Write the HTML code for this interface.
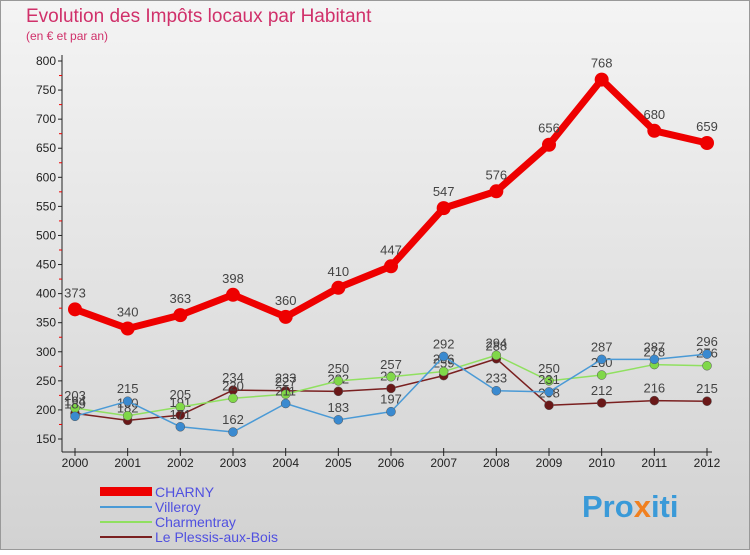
<!DOCTYPE html>
<html><head><meta charset="utf-8"><style>
body{margin:0;background:#fff;font-family:"Liberation Sans",sans-serif}
svg text{font-family:"Liberation Sans",sans-serif}
</style></head><body>
<svg width="750" height="550" xmlns="http://www.w3.org/2000/svg">
<defs><linearGradient id="bg" x1="0" y1="0" x2="0" y2="1"><stop offset="0" stop-color="#f4f4f4"/><stop offset="1" stop-color="#d2d2d2"/></linearGradient></defs>
<rect x="0.5" y="0.5" width="749" height="549" fill="url(#bg)" stroke="#999"/>
<text x="26" y="22" font-size="19" fill="#d0306a">Evolution des Impôts locaux par Habitant</text>
<text x="26" y="40" font-size="12" fill="#d0306a">(en € et par an)</text>
<g id="axes"></g><g id="series"></g>
<g>
<rect x="100" y="487" width="52" height="9" fill="#e00"/>
<text x="155" y="497" font-size="14" fill="#5050e0">CHARNY</text>
<line x1="100" y1="507" x2="152" y2="507" stroke="#4a9ad6" stroke-width="2"/>
<text x="155" y="512" font-size="14" fill="#5050e0">Villeroy</text>
<line x1="100" y1="522" x2="152" y2="522" stroke="#90e060" stroke-width="2"/>
<text x="155" y="527" font-size="14" fill="#5050e0">Charmentray</text>
<line x1="100" y1="537" x2="152" y2="537" stroke="#7a2020" stroke-width="2"/>
<text x="155" y="542" font-size="14" fill="#5050e0">Le Plessis-aux-Bois</text>
</g>
<text x="582" y="517" font-size="31" font-weight="bold" fill="#3a9ad8">Pro<tspan fill="#f08020">x</tspan>iti</text>
</svg>
<script>
const years=[2000,2001,2002,2003,2004,2005,2006,2007,2008,2009,2010,2011,2012];
const charny=[373,340,363,398,360,410,447,547,576,656,768,680,659];
const villeroy=[189,215,171,162,211,183,197,292,233,231,287,287,296];
const charmentray=[203,190,205,220,227,250,257,266,294,250,260,278,276];
const plessis=[194,182,191,234,233,232,237,259,288,208,212,216,215];
const yTicks=[150,200,250,300,350,400,450,500,550,600,650,700,750,800];
const NS="http://www.w3.org/2000/svg";
const X=i=>75+i*(707-75)/(years.length-1);
const Y=v=>439-(v-150)*(439-61)/650;
function mk(t,a,p){const e=document.createElementNS(NS,t);for(const k in a)e.setAttribute(k,a[k]);p.appendChild(e);return e;}
const ax=document.getElementById('axes');
mk('line',{x1:62,y1:55,x2:62,y2:452,stroke:'#222'},ax);
mk('line',{x1:62,y1:452,x2:712,y2:452,stroke:'#222'},ax);
yTicks.forEach(v=>{
 const l=mk('line',{x1:58,y1:Y(v),x2:62,y2:Y(v),stroke:'#222'},ax);
 
 
 if(v<800){const m=mk('line',{x1:59,y1:Y(v+25),x2:62,y2:Y(v+25),stroke:'#e00'},ax);
 
 }
 const t=mk('text',{x:56,y:Y(v)+4,'font-size':12,'text-anchor':'end',fill:'#222'},ax);
 
 
 t.textContent=v;
});
years.forEach((y,i)=>{
 const l=mk('line',{x1:X(i),y1:448,x2:X(i),y2:456,stroke:'#222'},ax);
 
 
 const t=mk('text',{x:X(i),y:467,'font-size':12,'text-anchor':'middle',fill:'#222'},ax);
 
 
 t.textContent=y;
});
const sg=document.getElementById('series');
function series(data,name,color,w,r,fill){
 const g=mk('g',{},sg);
 
 
 const p=mk('polyline',{points:data.map((v,i)=>X(i)+','+Y(v)).join(' '),fill:'none',stroke:color,'stroke-width':w,'stroke-linejoin':'round'},g);
 
 
 data.forEach((v,i)=>{
  const c=mk('circle',{cx:X(i),cy:Y(v),r:r,fill:fill,stroke:w>3?'none':'#555','stroke-width':0.5},g);
  
  
  const t=mk('text',{x:X(i),y:Y(v)-(w>3?12:8),'font-size':13,'text-anchor':'middle',fill:'#444'},g);
  
  
  t.textContent=v;
 });
}
series(plessis,'plessis','#7a2020',1.5,4.5,'#6a1818');
series(charmentray,'charmentray','#90e060',1.5,4.5,'#80d848');
series(villeroy,'villeroy','#4a9ad6',1.5,4.5,'#3a8ad0');
series(charny,'charny','#e00',7,7,'#e00');
</script>
</body></html>
